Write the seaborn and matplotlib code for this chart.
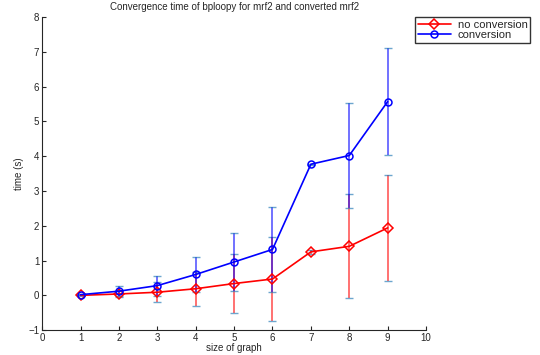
import seaborn as sns
import matplotlib.pyplot as plt
import pandas as pd

sizes = [1, 2, 3, 4, 5, 6, 7, 8, 9]
time_noconv = [0.0, 0.04, 0.09, 0.19, 0.34, 0.47, 1.25, 1.41, 1.94]
err_noconv = [0.02, 0.08, 0.29, 0.49, 0.86, 1.22, 0.05, 1.5, 1.53]
time_conv = [0.02, 0.12, 0.28, 0.60, 0.96, 1.32, 3.77, 4.02, 5.57]
err_conv = [0.02, 0.14, 0.29, 0.49, 0.84, 1.23, 0.02, 1.5, 1.53]

sns.set_style("ticks")
plt.rcParams['font.family'] = ['Liberation Sans', 'DejaVu Sans']

df = pd.concat([
    pd.DataFrame({"size": sizes, "time": time_noconv, "err": err_noconv, "kind": "no conversion"}),
    pd.DataFrame({"size": sizes, "time": time_conv, "err": err_conv, "kind": "conversion"}),
])

fig = plt.figure(figsize=(5.4, 3.55), dpi=100)
ax = fig.add_axes([0.078, 0.07, 0.711, 0.882])

colors = {"no conversion": "#ff0000", "conversion": "#0000ff"}
markers = {"no conversion": "D", "conversion": "o"}
for kind, sub in df.groupby("kind", sort=False):
    ax.errorbar(sub["size"], sub["time"], yerr=sub["err"], fmt="none",
                ecolor=colors[kind], elinewidth=1.2, capsize=3, alpha=0.65)
sns.lineplot(data=df, x="size", y="time", hue="kind", style="kind",
             palette=colors, markers=markers, dashes=False, ax=ax,
             markeredgewidth=1.1, markersize=5,
             linewidth=1.2, estimator=None)
for line in ax.lines:
    line.set_markeredgecolor(line.get_color())
    line.set_markerfacecolor("none")

ax.set_xlim(0, 10)
ax.set_ylim(-1, 8)
ax.set_xticks(range(0, 11))
ax.set_yticks(range(-1, 9))
ax.tick_params(direction="in", labelsize=7, length=3, pad=2)
ax.set_xlabel("size of graph", fontsize=7, labelpad=0)
ax.set_ylabel("time (s)", fontsize=7, labelpad=3)
ax.set_title("Convergence time of bploopy for mrf2 and converted mrf2", fontsize=7, pad=5)
sns.despine(ax=ax)

h, l = ax.get_legend_handles_labels()
for hh in h:
    hh.set_markerfacecolor("none")
leg = ax.legend(h, l, loc="upper left", bbox_to_anchor=(0.971, 1.0), fontsize=8,
                frameon=True, fancybox=False, edgecolor="black", borderpad=0.25,
                handlelength=3.0, handletextpad=0.6, labelspacing=0.05, borderaxespad=0)
leg.get_frame().set_linewidth(1.0)

fig.savefig("out.png", dpi=100)
